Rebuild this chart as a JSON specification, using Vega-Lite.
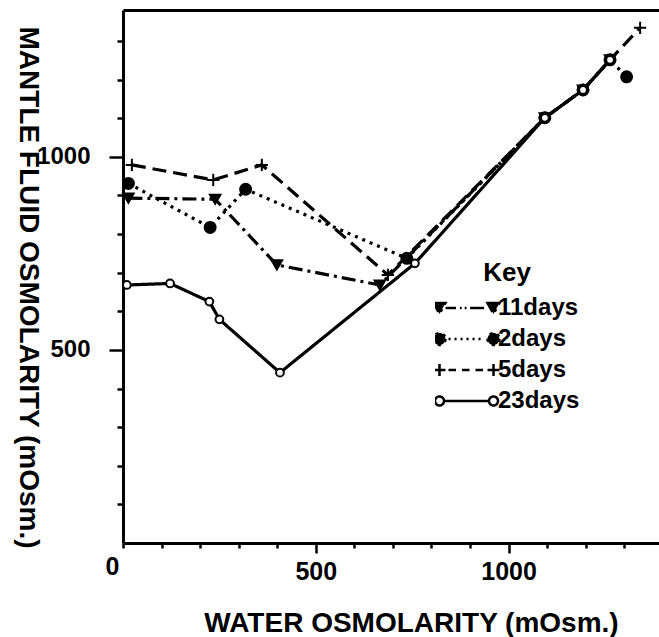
{
  "$schema": "https://vega.github.io/schema/vega-lite/v6.json",
  "autosize": "none",
  "width": 536,
  "height": 533,
  "padding": {"left": 123, "top": 10, "right": 0, "bottom": 94},
  "background": "white",
  "config": {
    "view": {"stroke": null},
    "axis": {"grid": false, "domainColor": "black", "tickColor": "black", "labelColor": "black", "titleColor": "black"},
    "text": {"color": "black"}
  },
  "data": {
    "values": [
      {"series": "11days", "x": 14, "y": 893},
      {"series": "11days", "x": 239, "y": 890},
      {"series": "11days", "x": 399, "y": 720},
      {"series": "11days", "x": 666, "y": 668},
      {"series": "11days", "x": 1094, "y": 1101},
      {"series": "11days", "x": 1193, "y": 1173},
      {"series": "11days", "x": 1263, "y": 1251},
      {"series": "2days", "x": 14, "y": 931},
      {"series": "2days", "x": 226, "y": 817},
      {"series": "2days", "x": 318, "y": 916},
      {"series": "2days", "x": 736, "y": 737},
      {"series": "2days", "x": 1094, "y": 1101},
      {"series": "2days", "x": 1193, "y": 1173},
      {"series": "2days", "x": 1263, "y": 1251},
      {"series": "2days", "x": 1306, "y": 1207},
      {"series": "5days", "x": 23, "y": 979},
      {"series": "5days", "x": 234, "y": 940},
      {"series": "5days", "x": 360, "y": 979},
      {"series": "5days", "x": 687, "y": 694},
      {"series": "5days", "x": 1094, "y": 1101},
      {"series": "5days", "x": 1193, "y": 1173},
      {"series": "5days", "x": 1263, "y": 1251},
      {"series": "5days", "x": 1341, "y": 1334},
      {"series": "23days", "x": 10, "y": 668},
      {"series": "23days", "x": 122, "y": 672},
      {"series": "23days", "x": 224, "y": 625},
      {"series": "23days", "x": 250, "y": 579},
      {"series": "23days", "x": 407, "y": 441},
      {"series": "23days", "x": 757, "y": 724},
      {"series": "23days", "x": 1094, "y": 1101},
      {"series": "23days", "x": 1193, "y": 1173},
      {"series": "23days", "x": 1263, "y": 1251}
    ]
  },
  "layer": [
    {
      "mark": {"type": "line", "strokeWidth": 3.2, "color": "black", "strokeCap": "butt"},
      "encoding": {
        "x": {
          "field": "x", "type": "quantitative",
          "scale": {"domain": [0, 1390], "nice": false, "zero": false},
          "axis": {
            "values": [0, 100, 200, 300, 400, 500, 600, 700, 800, 900, 1000, 1100, 1200, 1300],
            "format": "d",
            "labelExpr": "datum.value === 0 || datum.value === 500 || datum.value === 1000 ? datum.label : ''",
            "labelFlush": false,
            "labelOverlap": false,
            "tickSize": {"condition": {"test": "datum.value === 500 || datum.value === 1000", "value": 10}, "value": 5},
            "labelAlign": {"condition": {"test": "datum.value === 0", "value": "right"}, "value": "center"},
            "labelOffset": {"condition": {"test": "datum.value === 0", "value": -4}, "value": 0},
            "labelPadding": 6,
            "labelFont": "Liberation Sans",
            "labelFontSize": 25,
            "labelFontWeight": "bold",
            "domainWidth": 3,
            "tickWidth": 2.5,
            "title": "WATER OSMOLARITY (mOsm.)",
            "titleFont": "Liberation Sans",
            "titleFontSize": 28,
            "titleFontWeight": "bold",
            "titleX": 288,
            "titleY": 88,
            "titleAlign": "center",
            "titleBaseline": "alphabetic"
          }
        },
        "y": {
          "field": "y", "type": "quantitative",
          "scale": {"domain": [0, 1380], "nice": false},
          "axis": {
            "values": [100, 200, 300, 400, 500, 600, 700, 800, 900, 1000, 1100, 1200, 1300],
            "format": "d",
            "labelExpr": "datum.value === 500 || datum.value === 1000 ? datum.label : ''",
            "labelOverlap": false,
            "labelFlush": false,
            "tickSize": {"condition": {"test": "datum.value === 500 || datum.value === 1000", "value": 14}, "value": 6},
            "labelPadding": 19,
            "labelFont": "Liberation Sans",
            "labelFontSize": 24,
            "labelFontWeight": "bold",
            "domainWidth": 3,
            "tickWidth": 2.5,
            "title": "MANTLE FLUID OSMOLARITY (mOsm.)",
            "titleFont": "Liberation Sans",
            "titleFontSize": 28,
            "titleFontWeight": "bold",
            "titleAngle": 90,
            "titleX": -96,
            "titleY": 277,
            "titleAlign": "center",
            "titleBaseline": "middle"
          }
        },
        "strokeDash": {
          "field": "series", "type": "nominal",
          "scale": {"domain": ["11days", "2days", "5days", "23days"], "range": [[14, 5, 3, 5], [3, 5], [14, 7], [1, 0]]},
          "legend": {
            "orient": "none",
            "legendX": 312,
            "legendY": 250,
            "padding": 0,
            "title": "Key",
            "titleFont": "Liberation Sans",
            "titleFontSize": 26,
            "titleFontWeight": "bold",
            "titleColor": "black",
            "titleAnchor": "middle",
            "titlePadding": 8,
            "labelFont": "Liberation Sans",
            "labelFontSize": 24,
            "labelFontWeight": "bold",
            "labelColor": "black",
            "labelOffset": 0,
            "symbolSize": 3600,
            "symbolStrokeWidth": 2.5,
            "symbolStrokeColor": "black",
            "clipHeight": 28,
            "rowPadding": 3,
            "encode": {
              "symbols": {
                "update": {
                  "shape": {"signal": "datum.value === '11days' ? 'M-0.7,0L-0.35,0M-0.22,0L-0.16,0M-0.06,0L0,0M0.12,0L0.7,0M-1.1,-0.17L-0.7,-0.17L-0.9,0.2ZM0.7,-0.17L1.1,-0.17L0.9,0.2Z' : datum.value === '2days' ? 'M-0.6,0L-0.53,0M-0.4,0L-0.33,0M-0.2,0L-0.13,0M0,0L0.07,0M0.2,0L0.27,0M0.4,0L0.47,0M-0.7,0A0.2,0.2,0,1,1,-1.1,0A0.2,0.2,0,1,1,-0.7,0ZM1.1,0A0.2,0.2,0,1,1,0.7,0A0.2,0.2,0,1,1,1.1,0Z' : datum.value === '5days' ? 'M-0.6,0L-0.35,0M-0.15,0L0.1,0M0.3,0L0.55,0M-1.1,0L-0.7,0M-0.9,-0.2L-0.9,0.2M0.7,0L1.1,0M0.9,-0.2L0.9,0.2' : 'M-0.75,0L0.75,0M-0.75,0A0.15,0.15,0,1,1,-1.05,0A0.15,0.15,0,1,1,-0.75,0ZM1.05,0A0.15,0.15,0,1,1,0.75,0A0.15,0.15,0,1,1,1.05,0Z'"},
                  "fill": {"signal": "datum.value === '23days' ? 'white' : 'black'"},
                  "stroke": {"value": "black"},
                  "strokeWidth": {"value": 2.5},
                  "strokeDash": {"value": []},
                  "opacity": {"value": 1}
                }
              }
            }
          }
        }
      }
    },
    {
      "mark": {"type": "point", "stroke": "black", "strokeWidth": 2, "opacity": 1},
      "encoding": {
        "x": {
          "field": "x", "type": "quantitative",
          "axis": {"orient": "top", "labels": false, "ticks": false, "title": null, "domainWidth": 3, "domainColor": "black"}
        },
        "y": {"field": "y", "type": "quantitative"},
        "shape": {
          "condition": [
            {"test": "datum.series === '11days'", "value": "triangle-down"},
            {"test": "datum.series === '5days'", "value": "M-1,0L1,0M0,-1L0,1"}
          ],
          "value": "circle"
        },
        "fill": {
          "condition": {"test": "datum.series === '23days'", "value": "white"},
          "value": "black"
        },
        "size": {
          "condition": [
            {"test": "datum.series === '11days'", "value": 110},
            {"test": "datum.series === '2days'", "value": 120},
            {"test": "datum.series === '5days'", "value": 150}
          ],
          "value": 60
        }
      }
    }
  ],
  "resolve": {"axis": {"x": "independent"}}
}
